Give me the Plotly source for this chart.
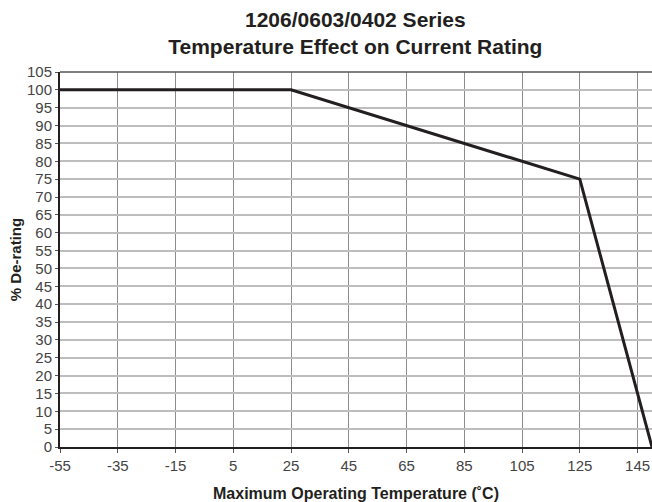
import plotly.graph_objects as go

# derating curve points
temp_c = [-55, 25, 125, 150]
derating_pct = [100, 100, 75, 0]

x_ticks = [-55, -35, -15, 5, 25, 45, 65, 85, 105, 125, 145]
y_ticks = list(range(0, 106, 5))

FONT = "Liberation Sans, Arial, Helvetica, sans-serif"

fig = go.Figure()
fig.add_trace(
    go.Scatter(
        x=temp_c,
        y=derating_pct,
        mode="lines",
        line=dict(color="#231f20", width=3),
        showlegend=False,
        cliponaxis=False,
        hoverinfo="skip",
    )
)

fig.update_xaxes(
    range=[-55, 150],
    tickvals=x_ticks,
    ticktext=[str(v) for v in x_ticks],
    showgrid=True,
    gridcolor="#8c8c8c",
    gridwidth=1,
    showline=True,
    linecolor="#231f20",
    linewidth=2,
    ticks="outside",
    ticklen=4,
    tickcolor="#555555",
    tickfont=dict(family=FONT, size=15, color="#444444"),
    zeroline=False,
    title=dict(
        text="Maximum Operating Temperature (˚C)",
        font=dict(family=FONT, size=16, color="#231f20", weight="bold"),
        standoff=17,
    ),
)
fig.update_yaxes(
    range=[0, 105],
    tickvals=y_ticks,
    showgrid=True,
    gridcolor="#bdbdbd",
    gridwidth=1.5,
    showline=True,
    linecolor="#231f20",
    linewidth=2,
    ticks="outside",
    ticklen=3,
    tickcolor="#555555",
    tickfont=dict(family=FONT, size=15, color="#444444"),
    zeroline=False,
    title=dict(
        text="% De-rating",
        font=dict(family=FONT, size=15, color="#231f20", weight="bold"),
        standoff=2,
    ),
)

# top border of the plot frame
fig.add_shape(
    type="line", xref="paper", yref="paper", x0=0, x1=1, y0=1, y1=1,
    line=dict(color="#555555", width=1.5),
)

fig.update_layout(
    width=652,
    height=502,
    margin=dict(l=60, r=0, t=72, b=55),
    paper_bgcolor="white",
    plot_bgcolor="white",
    title=dict(
        text="1206/0603/0402 Series<br>Temperature Effect on Current Rating",
        font=dict(family=FONT, size=21, color="#231f20", weight="bold"),
        x=0.545,
        xanchor="center",
        y=0.947,
        yanchor="top",
    ),
)

# drop the default body margin so the 652x502 figure fills the window
fig.write_html(
    "out.html",
    config={"displayModeBar": False},
    post_script="document.body.style.margin='0';document.body.style.overflow='hidden';",
)
